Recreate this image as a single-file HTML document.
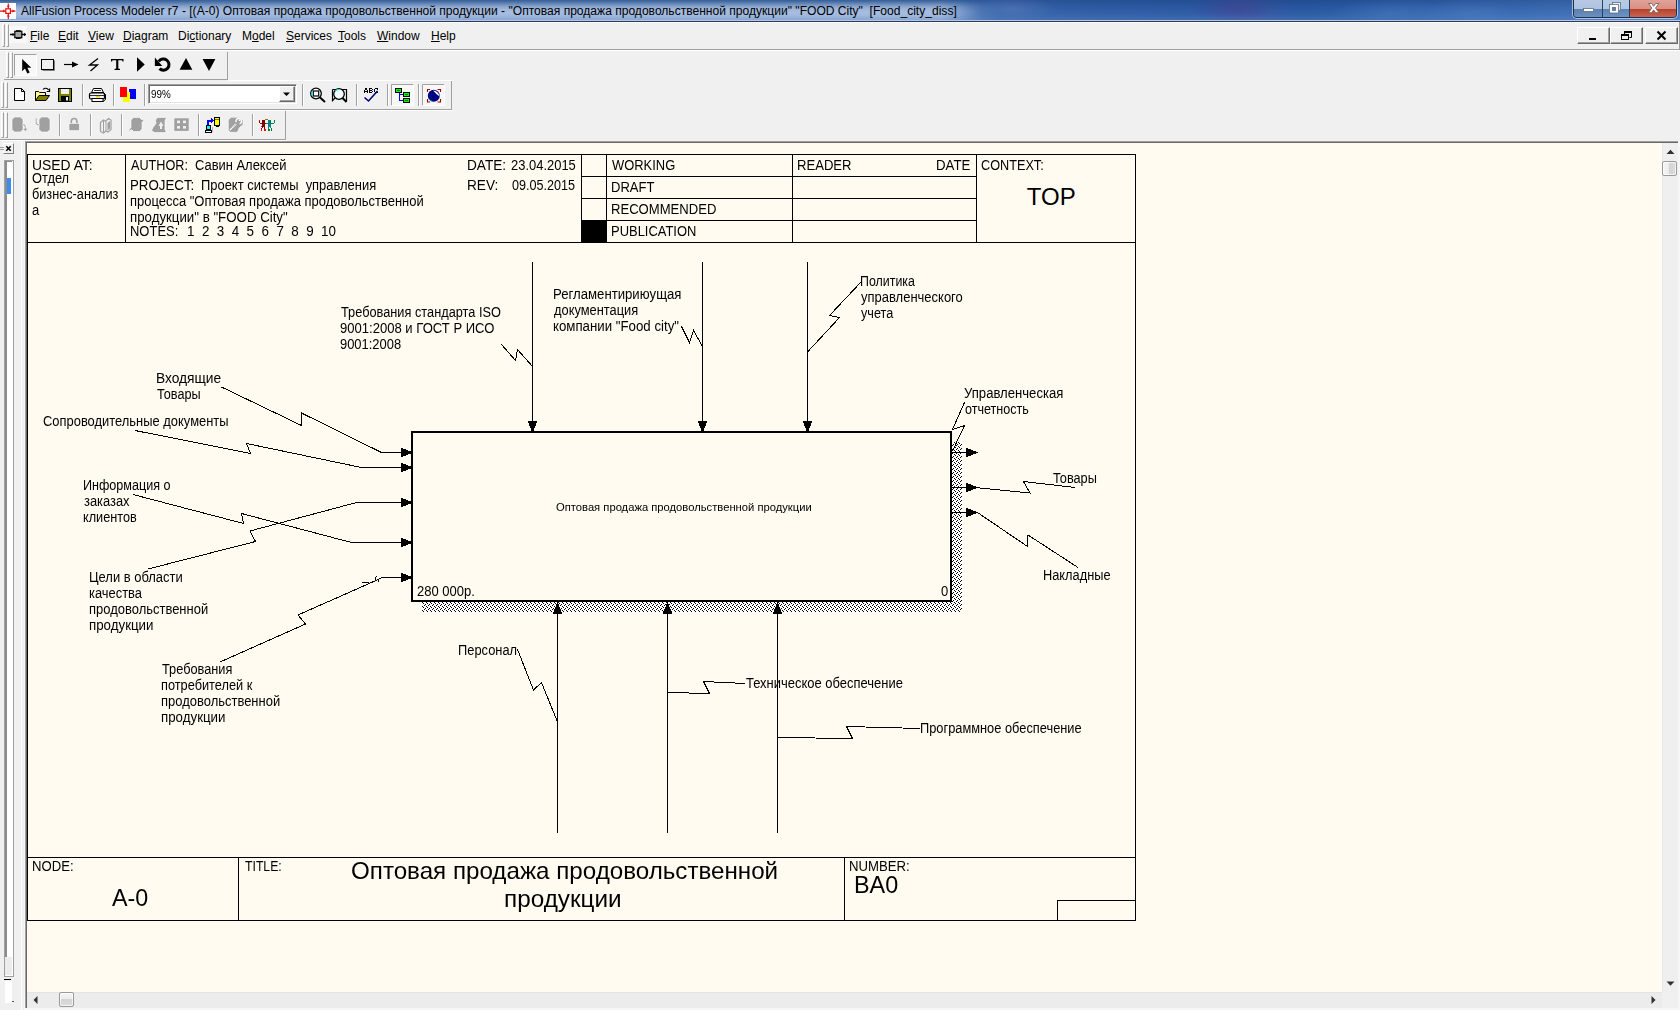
<!DOCTYPE html>
<html>
<head>
<meta charset="utf-8">
<title>AllFusion Process Modeler</title>
<style>
html,body{margin:0;padding:0;}
body{width:1680px;height:1010px;overflow:hidden;position:relative;background:#f0f0f0;font-family:"Liberation Sans",sans-serif;color:#000;}
.abs{position:absolute;}
.t{position:absolute;white-space:nowrap;font-family:"Liberation Sans",sans-serif;color:#000;}
/* title bar */
#titlebar{left:0;top:0;width:1680px;height:20px;background:linear-gradient(90deg,#3565ab 0px,#3363ab 1000px,#2d5ca5 1100px,#2a5aa4 1200px,#34579f 1245px,#2758a3 1300px,#2b5ea9 1400px,#3567b0 1500px,#3b6cb3 1570px,#4877bb 1680px);}
#titleshade{left:0;top:0;width:1680px;height:20px;background:radial-gradient(ellipse 45px 13px at 1234px 9px,rgba(75,50,140,0.36),rgba(75,50,140,0) 100%),radial-gradient(ellipse 60px 14px at 1393px 13px,rgba(90,140,195,0.30),rgba(90,140,195,0) 100%),radial-gradient(ellipse 50px 14px at 1468px 13px,rgba(100,140,205,0.28),rgba(100,140,205,0) 100%),radial-gradient(ellipse 45px 12px at 1012px 9px,rgba(110,135,190,0.38),rgba(110,135,190,0) 100%),linear-gradient(180deg,rgba(0,0,40,0.14) 0px,rgba(0,0,40,0.03) 7px,rgba(255,255,255,0.03) 14px,rgba(255,255,255,0.10) 20px);}
#titleglow{left:0;top:0;width:1000px;height:20px;background:linear-gradient(180deg,#3d6daa 0,#4f7bb4 1.5px,#6a90c2 3.5px,#8ba8d1 6px,#a0b8dd 9px,#a6bde1 12px,#9db6dc 15px,#89a7d3 18px,#7c9dcc 20px);-webkit-mask-image:linear-gradient(90deg,#000 0,#000 940px,rgba(0,0,0,0.6) 962px,rgba(0,0,0,0.15) 982px,transparent 1000px);mask-image:linear-gradient(90deg,#000 0,#000 940px,rgba(0,0,0,0.6) 962px,rgba(0,0,0,0.15) 982px,transparent 1000px);}
#titlehl{left:0;top:20px;width:1680px;height:1px;background:#b5c7e3;}
#titleline{left:0;top:21px;width:1680px;height:1px;background:#2a3c5e;}
#titlewh{left:0;top:22px;width:1680px;height:1px;background:#fcfcfc;}
#titletext{left:21px;top:4.2px;font-size:12.07px;line-height:15px;color:#000;}
/* menu */
.menu{top:28.7px;font-size:12px;line-height:15px;}
.menu u{text-decoration:underline;text-underline-offset:1px;}
.hline{position:absolute;height:1px;}
.vline{position:absolute;width:1px;}
.btn3d{position:absolute;box-sizing:border-box;background:#f0f0f0;border-top:1px solid #fff;border-left:1px solid #fff;border-right:1px solid #696969;border-bottom:1px solid #696969;box-shadow:inset -1px -1px 0 #a0a0a0;}
.tbbox{position:absolute;box-sizing:border-box;border-right:1px solid #a0a0a0;border-bottom:1px solid #a0a0a0;border-top:1px solid #fff;border-left:1px solid #fff;}
.grip{position:absolute;width:3px;border-left:1px solid #fff;border-right:1px solid #a0a0a0;border-top:1px solid #fff;border-bottom:1px solid #a0a0a0;box-sizing:border-box;}
.sep{position:absolute;width:1px;background:#a0a0a0;border-right:1px solid #fff;}
/* diagram */
#canvas{left:27px;top:143px;width:1635px;height:849px;background:#fffbf0;}
.lbl{position:absolute;white-space:nowrap;font-size:14px;line-height:16px;color:#000;transform-origin:0 0;}
.hdr{position:absolute;white-space:nowrap;font-size:12.6px;line-height:15px;color:#000;}
.big{position:absolute;white-space:nowrap;font-size:24px;line-height:28px;color:#000;}
</style>
</head>
<body>

<!-- ======= TITLE BAR ======= -->
<div id="titlebar" class="abs"></div>
<div id="titleglow" class="abs"></div>
<div id="titleshade" class="abs"></div>
<div id="titlehl" class="abs"></div>
<div id="titlewh" class="abs"></div>
<div id="titleline" class="abs"></div>
<div id="titletext" class="t">AllFusion Process Modeler r7 - [(A-0) Оптовая продажа продовольственной продукции - "Оптовая продажа продовольственной продукции" "FOOD City"&nbsp; [Food_city_diss]</div>

<!-- ======= WINDOW BUTTONS (aero) ======= -->
<div class="abs" style="left:1573px;top:-4px;width:104px;height:22px;border:1px solid #1b2f52;border-radius:4px;box-sizing:border-box;overflow:hidden;box-shadow:0 0 0 1px rgba(255,255,255,0.55);">
  <div class="abs" style="left:0;top:0;width:28px;height:21px;background:linear-gradient(180deg,#b8c9e2 0,#b0c4df 12px,#5a7fb0 12px,#6f93c2 21px);border-right:1px solid #2b4066;"></div>
  <div class="abs" style="left:29px;top:0;width:26px;height:21px;background:linear-gradient(180deg,#b8cde6 0,#afc7e2 12px,#5a82b4 12px,#7297c6 21px);border-right:1px solid #2b4066;"></div>
  <div class="abs" style="left:56px;top:0;width:48px;height:21px;background:linear-gradient(180deg,#e2a9a0 0,#d98e82 12px,#b8402c 12px,#cc6a52 21px);"></div>
</div>
<svg class="abs" style="left:1573px;top:0" width="104" height="18" viewBox="0 0 104 18">
  <rect x="10.5" y="8.5" width="10" height="3" fill="#fff" stroke="#5b6d85" stroke-width="0.8"/>
  <rect x="39.5" y="2.5" width="8" height="8" fill="#e9eef5" stroke="#5b6d85" stroke-width="0.8"/>
  <rect x="36.5" y="4.5" width="9" height="8.5" fill="#fff" stroke="#5b6d85" stroke-width="0.8"/>
  <rect x="39.5" y="7.5" width="3" height="3" fill="#5f83b4" stroke="#5b6d85" stroke-width="0.8"/>
  <path d="M75.5 3.5 h3.2 l2 2.8 l2 -2.8 h3.2 l-3.4 4.6 l3.5 4.6 h-3.3 l-2 -2.8 l-2 2.8 h-3.3 l3.5 -4.6 z" fill="#fff" stroke="#6b5550" stroke-width="0.8"/>
</svg>

<!-- app icon -->
<svg class="abs" style="left:0;top:3px" width="16" height="16" viewBox="0 0 16 16">
  <rect x="0" y="0" width="16" height="16" fill="#fff"/>
  <g stroke="#e81010" stroke-width="1.2" fill="none">
    <rect x="5.8" y="5.8" width="4.6" height="4.6" fill="#fff"/>
    <path d="M0 8.1 H5.5 M10.5 8.1 H15.5 M8.3 0.5 V5.5 M8.3 10.5 V16"/>
  </g>
  <g fill="#e81010"><path d="M3 6.6 L5.4 8.1 L3 9.6z M12.4 6.6 L14.8 8.1 L12.4 9.6z M6.8 2.8 L8.3 5 L9.8 2.8z M6.8 13.6 L8.3 11.2 L9.8 13.6z"/></g>
</svg>

<!-- ======= MENU BAR ======= -->
<div class="grip" style="left:2px;top:24px;height:23px;"></div>
<div class="grip" style="left:6px;top:24px;height:23px;"></div>
<svg class="abs" style="left:9px;top:26px" width="18" height="17" viewBox="0 0 18 17">
  <rect x="0" y="0" width="18" height="17" fill="#f8f8f8"/>
  <path d="M1 8.5 H5 M13 8.5 H17" stroke="#000" stroke-width="1.3"/>
  <path d="M3.6 6.8 L5.6 8.5 L3.6 10.2z" fill="#000"/>
  <path d="M15 6.8 L17 8.5 L15 10.2z" fill="#000"/>
  <rect x="5.8" y="5.3" width="7" height="6.4" fill="#a8a8a8" stroke="#000" stroke-width="1.2"/>
  <rect x="7" y="4.2" width="4.6" height="1" fill="#000"/><rect x="7" y="11.9" width="4.6" height="1" fill="#000"/>
</svg>
<div class="t menu" style="left:30px"><u>F</u>ile</div>
<div class="t menu" style="left:58px"><u>E</u>dit</div>
<div class="t menu" style="left:88px"><u>V</u>iew</div>
<div class="t menu" style="left:123px"><u>D</u>iagram</div>
<div class="t menu" style="left:178px">Di<u>c</u>tionary</div>
<div class="t menu" style="left:242px">M<u>o</u>del</div>
<div class="t menu" style="left:286px"><u>S</u>ervices</div>
<div class="t menu" style="left:338px"><u>T</u>ools</div>
<div class="t menu" style="left:377px"><u>W</u>indow</div>
<div class="t menu" style="left:431px"><u>H</u>elp</div>

<!-- MDI buttons -->
<div class="btn3d" style="left:1577px;top:27px;width:33px;height:17px;"></div>
<div class="btn3d" style="left:1610px;top:27px;width:33px;height:17px;"></div>
<div class="btn3d" style="left:1645px;top:27px;width:33px;height:17px;"></div>
<svg class="abs" style="left:1577px;top:27px" width="101" height="17" viewBox="0 0 101 17">
  <rect x="12" y="11" width="7" height="2" fill="#000"/>
  <rect x="47" y="4" width="8" height="2" fill="#000"/><path d="M54.5 6 V10.5 H52.5 M47.5 6 V7" fill="none" stroke="#000" stroke-width="1"/>
  <rect x="44" y="7" width="8" height="2" fill="#000"/><rect x="44.5" y="8.5" width="7" height="4" fill="none" stroke="#000" stroke-width="1"/>
  <path d="M80.5 4.5 L88.5 12.5 M88.5 4.5 L80.5 12.5" stroke="#000" stroke-width="2"/>
</svg>

<!-- lines under menu -->
<div class="hline" style="left:0;top:49px;width:1679px;background:#a0a0a0;"></div>
<div class="hline" style="left:0;top:50px;width:1679px;background:#fff;"></div>
<div class="vline" style="left:1679px;top:22px;height:28px;background:#a0a0a0;"></div>

<!-- ======= TOOLBAR 1 (drawing tools) ======= -->
<div class="hline" style="left:4px;top:79px;width:224px;background:#a0a0a0;"></div>
<div class="vline" style="left:227px;top:52px;height:28px;background:#a0a0a0;"></div>
<div class="grip" style="left:6px;top:52px;height:26px;"></div>
<div class="grip" style="left:10px;top:52px;height:26px;"></div>
<div class="abs" style="left:14px;top:54px;width:23px;height:22px;box-sizing:border-box;border-top:1px solid #a0a0a0;border-left:1px solid #a0a0a0;border-right:1px solid #fff;border-bottom:1px solid #fff;background:#f8f8f8;"></div>
<svg class="abs" style="left:14px;top:52px" width="212" height="27" viewBox="0 0 212 27">
  <!-- pointer -->
  <path d="M7.5 5 V17.2 L10.3 14.6 L12.6 19.6 L15 18.6 L12.7 13.7 H16.6 Z" fill="#000" transform="translate(0.7,2)"/>
  <!-- rectangle -->
  <rect x="27.5" y="7.5" width="12" height="10" fill="#f0f0f0" stroke="#000" stroke-width="1"/>
  <path d="M28.5 18.5 H40.5 V8.5" stroke="#808080" stroke-width="1" fill="none"/>
  <!-- arrow -->
  <path d="M50 12.5 H61" stroke="#000" stroke-width="1.2"/><path d="M58 9.5 L64.5 12.5 L58 15.5 Z" fill="#000"/>
  <!-- lightning -->
  <path d="M84 6.5 L75.5 13 H83.5 L76.5 19" stroke="#000" stroke-width="1.3" fill="none"/>
  <!-- T -->
  <path d="M97 7 H109.5 V9.6 H108.5 L108 8.2 H104.3 V16.4 L106 17 V18 H100.5 V17 L102.2 16.4 V8.2 H98.5 L98 9.6 H97 Z" fill="#000"/>
  <!-- play -->
  <path d="M123 5.3 L130.7 12.5 L123 19.7 Z" fill="#000"/>
  <!-- undo -->
  <path d="M144.7 9.5 A5.6 5.6 0 1 1 145.5 16.6" stroke="#000" stroke-width="3" fill="none"/>
  <path d="M140.9 5.4 V14 H148.3 Z" fill="#000"/>
  <!-- up triangle -->
  <path d="M165.6 17.8 L172 6 L178.3 17.8 Z" fill="#000"/>
  <!-- down triangle -->
  <path d="M188.6 7 H201.4 L195 18.9 Z" fill="#000"/>
</svg>

<!-- ======= TOOLBAR 2 (standard) ======= -->
<div class="hline" style="left:0;top:109px;width:452px;background:#a0a0a0;"></div>
<div class="vline" style="left:451px;top:81px;height:29px;background:#a0a0a0;"></div>
<div class="hline" style="left:228px;top:80px;width:224px;background:#fff;"></div>
<div class="grip" style="left:1px;top:82px;height:26px;"></div>
<div class="grip" style="left:5px;top:82px;height:26px;"></div>
<div class="sep" style="left:82px;top:84px;height:22px;"></div>
<div class="sep" style="left:113px;top:84px;height:22px;"></div>
<div class="sep" style="left:144px;top:84px;height:22px;"></div>
<div class="sep" style="left:302px;top:84px;height:22px;"></div>
<div class="sep" style="left:356px;top:84px;height:22px;"></div>
<div class="sep" style="left:387px;top:84px;height:22px;"></div>
<div class="sep" style="left:418px;top:84px;height:22px;"></div>
<!-- combobox -->
<div class="abs" style="left:148px;top:84px;width:149px;height:20px;box-sizing:border-box;background:#fff;border-top:1px solid #a0a0a0;border-left:1px solid #a0a0a0;border-right:1px solid #fff;border-bottom:1px solid #fff;box-shadow:inset 1px 1px 0 #696969, inset -1px -1px 0 #e3e3e3;"></div>
<div class="btn3d" style="left:279px;top:86px;width:16px;height:16px;"></div>
<svg class="abs" style="left:279px;top:86px" width="16" height="16"><path d="M4 6.5 H11 L7.5 10 Z" fill="#000"/></svg>
<div class="t" style="left:151px;top:87px;font-size:11.2px;line-height:14px;transform:scaleX(0.88);transform-origin:0 0;">99%</div>
<svg class="abs" style="left:10px;top:82px" width="440" height="27" viewBox="0 0 440 27">
  <!-- new -->
  <path d="M4.5 6.5 H11.5 L14.5 9.5 V18.5 H4.5 Z" fill="#fff" stroke="#000" stroke-width="1"/>
  <path d="M11.5 6.5 V9.5 H14.5" fill="none" stroke="#000" stroke-width="1"/>
  <!-- open -->
  <path d="M25.5 18.5 V9.5 H28.5 L29.5 10.5 H35.5 V13" fill="#ffff90" stroke="#000" stroke-width="1"/>
  <path d="M25.5 18.5 L29 13.5 H39.5 L36 18.5 Z" fill="#808000" stroke="#000" stroke-width="1"/>
  <path d="M33 7.5 C34.5 5.8 37 5.8 38.8 8.2" fill="none" stroke="#000" stroke-width="1.1"/><path d="M36.8 9.5 H39.6 V6.6" fill="none" stroke="#000" stroke-width="1.1"/>
  <!-- save -->
  <rect x="48.5" y="6.5" width="13" height="13" fill="#808000" stroke="#000" stroke-width="1"/>
  <rect x="51" y="7" width="8" height="5" fill="#f0f0f0"/><rect x="51" y="14" width="8" height="5.5" fill="#000"/><rect x="56" y="15" width="2" height="3.5" fill="#f0f0f0"/>
  <!-- print -->
  <path d="M83.5 6.5 H91.5 L93.5 10.5 H81.5 Z" fill="#fff" stroke="#000" stroke-width="1"/>
  <path d="M84 8.5 H91" stroke="#000" stroke-width="0.8"/>
  <rect x="79.5" y="11" width="15" height="6" rx="1.5" fill="#f4f4f4" stroke="#000" stroke-width="1.2"/>
  <path d="M80 13.5 H94" stroke="#000" stroke-width="0.8"/>
  <rect x="82" y="16.5" width="11" height="3" fill="#fff" stroke="#000" stroke-width="1"/>
  <rect x="86" y="14" width="4" height="1.4" fill="#e8d800"/>
  <path d="M93 10 L95.5 12.5 V17.5 L93 19.5" fill="none" stroke="#000" stroke-width="1"/>
  <!-- colors -->
  <rect x="119" y="7" width="7" height="10" fill="#0000ff"/>
  <rect x="121.5" y="15" width="1" height="1" fill="#000060"/>
  <rect x="113" y="10" width="7" height="10" fill="#ffff00"/>
  <rect x="110" y="5" width="7" height="10" fill="#ff0000"/>
  <!-- zoom -->
  <circle cx="306" cy="11.5" r="5.3" fill="#f4ffff" stroke="#000" stroke-width="1.3"/>
  <rect x="303.3" y="9" width="5.4" height="5" fill="#fff" stroke="#000" stroke-width="1.2"/>
  <path d="M302 9.3 A5 5 0 0 0 302.5 14.5" stroke="#00e0e0" stroke-width="1" fill="none"/>
  <path d="M310 15.5 L315 20" stroke="#000" stroke-width="2"/>
  <!-- zoom fit -->
  <path d="M322.5 7.5 V19.5 M322.5 7.5 H336.5 V19.5" stroke="#000" stroke-width="1.2" fill="none"/>
  <circle cx="329" cy="12" r="5.3" fill="#f4ffff" stroke="#000" stroke-width="1.3"/>
  <path d="M325 9.3 A5 5 0 0 1 328.5 7.3" stroke="#00e0e0" stroke-width="1.2" fill="none"/>
  <path d="M332.5 16 L336.5 20" stroke="#000" stroke-width="2"/>
  <path d="M322.5 18.5 L325 16" stroke="#000" stroke-width="1.2"/>
  <!-- ABC check -->
  <g shape-rendering="crispEdges" stroke="#000" stroke-width="1" fill="none"><path d="M354.5 11 V8 M357.5 11 V8 M355 7.5 H356 M355 6.5 H357 M356 7.5 H357 M354.5 9.5 H357.5"/><path d="M359.5 6 V11 M359.5 6.5 H362 M359.5 8.5 H362 M359.5 10.5 H362 M362.5 7 V8 M362.5 9 V10"/><path d="M365 6.5 H367.5 M364.5 7 V10 M365 10.5 H367.5 M367.5 7 V8 M367.5 9.5 V10"/></g>
  <path d="M354.5 15.5 L358.5 19 L367.5 9" stroke="#000080" stroke-width="1.6" fill="none"/>
  <!-- tree button (pressed) -->
  <rect x="381.5" y="2.5" width="22" height="21" fill="#f8f8f8" stroke="none"/>
  <path d="M381.5 23.5 V2.5 H403.5" stroke="#a0a0a0" fill="none"/><path d="M381.5 23.5 H403.5 V2.5" stroke="#fff" fill="none"/>
  <g shape-rendering="crispEdges"><path d="M389.5 11 V18.5 H393 M389.5 12.5 H393" stroke="#0000ff" stroke-width="1" fill="none"/>
  <rect x="385.5" y="6.5" width="6" height="4" fill="#00ff00" stroke="#000" stroke-width="1"/><rect x="387" y="8" width="3" height="1" fill="#008000"/>
  <rect x="393.5" y="10.5" width="6" height="4" fill="#00ff00" stroke="#000" stroke-width="1"/><rect x="395" y="12" width="3" height="1" fill="#008000"/>
  <rect x="393.5" y="16.5" width="6" height="4" fill="#00ff00" stroke="#000" stroke-width="1"/><rect x="395" y="18" width="3" height="1" fill="#008000"/></g>
  <!-- globe button (pressed) -->
  <rect x="412.5" y="2.5" width="22" height="21" fill="#f8f8f8" stroke="none"/>
  <path d="M412.5 23.5 V2.5 H434.5" stroke="#a0a0a0" fill="none"/><path d="M412.5 23.5 H434.5 V2.5" stroke="#fff" fill="none"/>
  <circle cx="423.8" cy="13.8" r="6" fill="#000080"/>
  <path d="M423.2 8.6 Q428.3 9 429.6 14.6 Q426.2 12.4 423.2 8.6 Z" fill="#fff"/>
  <path d="M418.6 16.6 Q420 19 422.8 19.6" stroke="#00b0b0" stroke-width="1" fill="none"/>
  <path d="M417.5 10 V7.5 H420 M427.5 7.5 H430.5 V10 M417.5 17 V20 H420 M427.5 20 H430.5 V17" stroke="#a00000" stroke-width="1.1" fill="none"/>
</svg>

<!-- ======= TOOLBAR 3 (model mart) ======= -->
<div class="hline" style="left:0;top:139px;width:286px;background:#a0a0a0;"></div>
<div class="vline" style="left:285px;top:111px;height:29px;background:#a0a0a0;"></div>
<div class="hline" style="left:0;top:110px;width:452px;background:#fff;"></div>
<div class="grip" style="left:1px;top:112px;height:26px;"></div>
<div class="grip" style="left:5px;top:112px;height:26px;"></div>
<div class="sep" style="left:59px;top:114px;height:22px;"></div>
<div class="sep" style="left:90px;top:114px;height:22px;"></div>
<div class="sep" style="left:121px;top:114px;height:22px;"></div>
<div class="sep" style="left:198px;top:114px;height:22px;"></div>
<div class="sep" style="left:252px;top:114px;height:22px;"></div>
<svg class="abs" style="left:0;top:112px" width="286" height="27" viewBox="0 0 286 27">
  <g fill="#a0a0a0" stroke="#fff" stroke-width="0.6">
    <!-- 1 -->
    <path d="M14.5 5 H20.5 L23 7.5 V17.5 L20.5 20 H14.5 L12 17.5 V7.5 Z"/>
    <path d="M22.5 12 C25.5 12 26 14 26 16.5 L27.8 16.5 L25.4 19.6 L23 16.5 L24.8 16.5 C24.8 14.5 24.5 13.3 22.5 13.3 Z" stroke-width="0.4"/>
    <!-- 2 -->
    <path d="M41.5 5 H47.5 L50 7.5 V17.5 L47.5 20 H41.5 L39 17.5 V7.5 Z"/>
    <path d="M35.5 6 V10.5 C35.5 12.5 36.5 13.3 39.5 13.3 V12 C37.3 12 36.8 11.6 36.8 10.5 V6 Z" stroke-width="0.4"/>
    <!-- lock -->
    <path d="M71.3 11.5 V9.3 A2.8 2.8 0 0 1 76.9 9.3 V11.5" fill="none" stroke="#a0a0a0" stroke-width="1.6"/>
    <rect x="69" y="11.3" width="10.4" height="7.4"/>
    <!-- book -->
    <path d="M100.5 10.5 L103.5 8 L105.5 9.2 L108.5 6.5 L111 8 V17.5 L108 20 L106 18.8 L103.5 21 L100.5 19.5 Z" fill="#f0f0f0" stroke="#a0a0a0" stroke-width="1.2"/>
    <path d="M103.5 8.5 V20.5 M106 9.5 V18.5" stroke="#a0a0a0" stroke-width="1" fill="none"/>
    <path d="M107.5 11 L110 9 V16.5 L107.5 18.5 Z" fill="#a0a0a0" stroke="none"/>
    <!-- 5 -->
    <path d="M133.5 5.5 H139.5 L142 8 L143.5 6 V8.5 L142 10.5 V17 L139.5 19.5 H133.5 L131.5 17.5 L128.5 20 L129.5 17 L131 15.5 V8 Z"/>
    <!-- 6 -->
    <path d="M157.5 5.5 H166.5 L165 8.5 V17.5 L166.5 20.5 H154.5 L151.5 18.5 L153 15.5 L156 11.5 L155.5 8 Z"/>
    <path d="M158.5 14 L161 9.5 L163.5 14 H162 V17 H160 V14 Z" fill="#f0f0f0" stroke="none"/>
    <!-- grid -->
    <rect x="174.3" y="6.3" width="14.4" height="12.6" stroke="none"/>
    <g fill="#f0f0f0" stroke="none"><rect x="177" y="8.6" width="3" height="2.6"/><rect x="183" y="8.6" width="3" height="2.6"/><rect x="177" y="14" width="3" height="2.6"/><rect x="183" y="14" width="3" height="2.6"/></g>
    <!-- wrench -->
    <path d="M231 5.3 H240 L243 8.3 V13 L240.5 14.5 L238.5 17 V18.5 L236.5 20.3 H230.5 L228.3 18.3 V8 Z" stroke="#fff" stroke-width="0.6"/>
    <path d="M230 18 L236 12" stroke="#fff" stroke-width="1.7" stroke-dasharray="1.1 0.5" fill="none"/>
    <path d="M236.2 10.2 A2.8 2.8 0 1 1 239.6 11.8" stroke="#fff" stroke-width="1.4" fill="none"/>
    <circle cx="239.6" cy="8.2" r="0.9" fill="#fff" stroke="none"/>
  </g>
  <!-- 8 colored -->
  <g shape-rendering="crispEdges">
  <path d="M207 12 V8 H212" stroke="#0000ff" stroke-width="2" fill="none" transform="translate(1,0.5)"/><path d="M211 5.5 L214 8.5 L211 11 Z" fill="#0000ff"/>
  <rect x="214.5" y="5.5" width="5" height="8" fill="#ffff00" stroke="#000" stroke-width="1"/>
  <rect x="215" y="6.5" width="4" height="1" fill="#808000"/>
  <rect x="215.5" y="4.5" width="3" height="1" fill="#000"/><rect x="215.5" y="13.5" width="3" height="1" fill="#000"/>
  <rect x="206.5" y="13.5" width="4" height="4" fill="#00ffff" stroke="#000" stroke-width="1"/>
  <rect x="205.5" y="18.5" width="6" height="2" fill="#fff" stroke="#000" stroke-width="1"/>
  <rect x="212" y="15" width="1" height="5" fill="#b0b0b0"/>
  <!-- people -->
  <rect x="262" y="8" width="3" height="7" fill="#800000"/>
  <path d="M259.5 9 V11 M260 11.5 H262 M265 11.5 H267 M262.5 15 V16 M261.5 16 V17 M264.5 15 V17" stroke="#800000" stroke-width="1" fill="none"/>
  <rect x="259" y="8" width="1" height="1" fill="#ff0000"/><rect x="261" y="17" width="1" height="1.5" fill="#ff0000"/><rect x="264" y="17" width="1.5" height="1.5" fill="#ff0000"/><rect x="261" y="14" width="1" height="1" fill="#ff0000"/>
  <rect x="268" y="8" width="3" height="7" fill="#008080"/>
  <path d="M274.5 9 V11 M271 11.5 H274 M266 11.5 H268 M268.5 15 V17 M270.5 15 V16 M271.5 16 V17" stroke="#008080" stroke-width="1" fill="none"/>
  <rect x="274" y="8" width="1" height="1" fill="#008000"/><rect x="268" y="17" width="1.5" height="1.5" fill="#008000"/><rect x="271" y="17" width="1" height="1.5" fill="#008000"/><rect x="270" y="9" width="1" height="2" fill="#008000"/>
  <rect x="265" y="7" width="3" height="1" fill="#808000"/>
  </g>
</svg>

<!-- ======= main area frame ======= -->
<div class="hline" style="left:0;top:140px;width:286px;background:#fff;"></div>
<div class="hline" style="left:25px;top:141px;width:1653px;background:#a0a0a0;"></div>
<div class="hline" style="left:26px;top:142px;width:1652px;background:#696969;"></div>
<div class="vline" style="left:25px;top:141px;height:867px;background:#a0a0a0;"></div>
<div class="vline" style="left:26px;top:142px;height:866px;background:#696969;"></div>
<div class="vline" style="left:1678px;top:141px;height:869px;width:2px;background:#f6f6f6;"></div>
<div class="hline" style="left:25px;top:1008px;width:1655px;height:2px;background:#f6f6f6;"></div>

<!-- left collapsed pane -->
<div class="vline" style="left:21px;top:141px;height:869px;width:1px;background:#fff;"></div>
<div class="vline" style="left:24px;top:141px;height:869px;width:1px;background:#f8f8f8;"></div>
<div class="btn3d" style="left:3px;top:143px;width:11px;height:11px;box-shadow:none;border-right-color:#808080;border-bottom-color:#808080;"></div>
<svg class="abs" style="left:0;top:143px" width="15" height="12"><path d="M6.3 3.2 L10.7 7.8 M10.7 3.2 L6.3 7.8" stroke="#000" stroke-width="1.5"/><path d="M0 4.5 H4 M0 6.5 H4" stroke="#a0a0a0" stroke-width="1"/></svg>
<div class="abs" style="left:4px;top:160px;width:10px;height:817px;box-sizing:border-box;border:1px solid #a0a0a0;background:#fff;"></div>
<div class="abs" style="left:5px;top:161px;width:2px;height:796px;background:#8c8c8c;"></div>
<div class="abs" style="left:7px;top:161px;width:5px;height:1px;background:#8c8c8c;"></div>
<div class="abs" style="left:5px;top:957px;width:7px;height:18px;background:#ececec;"></div>
<div class="abs" style="left:7px;top:178px;width:4px;height:16px;background:#3c8cf0;"></div>
<div class="abs" style="left:4px;top:979px;width:7px;height:1px;background:#000;"></div>
<div class="abs" style="left:5px;top:981px;width:7px;height:22px;background:#fff;"></div>
<div class="abs" style="left:12px;top:1001px;width:2px;height:1px;background:#505050;"></div>

<!-- ======= scrollbars ======= -->
<div class="abs" style="left:1662px;top:143px;width:16px;height:849px;background:#efefef;border-left:1px solid #e6e6e6;box-sizing:border-box;"></div>
<div class="abs" style="left:27px;top:992px;width:1635px;height:16px;background:#ececec;border-top:1px solid #e4e4e4;box-sizing:border-box;"></div>
<div class="abs" style="left:1662px;top:992px;width:16px;height:16px;background:#f0f0f0;"></div>
<div class="abs" style="left:1662px;top:161px;width:15px;height:15px;box-sizing:border-box;border:1px solid #9a9a9a;border-radius:2px;background:linear-gradient(90deg,#f5f5f5 0,#ececec 45%,#d4d4d6 50%,#dcdcde 100%);box-shadow:inset 0 0 0 1px rgba(255,255,255,0.7);"></div>
<div class="abs" style="left:59px;top:992px;width:15px;height:15px;box-sizing:border-box;border:1px solid #9a9a9a;border-radius:2px;background:linear-gradient(180deg,#f5f5f5 0,#ececec 45%,#d4d4d6 50%,#dcdcde 100%);box-shadow:inset 0 0 0 1px rgba(255,255,255,0.7);"></div>
<svg class="abs" style="left:1662px;top:143px" width="16" height="849"><path d="M4.5 11 L8.5 6.8 L12.5 11 Z" fill="#303030"/><path d="M4.5 838.5 H12.5 L8.5 842.8 Z" fill="#303030"/></svg>
<svg class="abs" style="left:27px;top:992px" width="1635" height="16"><path d="M10.5 4 V12 L6.5 8 Z" fill="#303030"/><path d="M1624.5 4 V12 L1628.5 8 Z" fill="#303030"/></svg>

<!--CHROME-->

<!-- ======= CANVAS ======= -->
<div id="canvas" class="abs"></div>

<!--DIAGRAM-->
<svg class="abs" style="left:0;top:0" width="1680" height="1010" viewBox="0 0 1680 1010" shape-rendering="crispEdges">
<defs><pattern id="sh" x="0" y="0" width="4" height="4" patternUnits="userSpaceOnUse"><rect width="4" height="4" fill="#fff"/><rect x="1" y="0" width="1" height="1" fill="#000"/><rect x="0" y="1" width="1" height="1" fill="#000"/><rect x="2" y="2" width="1" height="1" fill="#000"/><rect x="3" y="3" width="1" height="1" fill="#000"/></pattern></defs>
<g fill="none" stroke="#000" stroke-width="1">
<rect x="27.5" y="154.5" width="1108" height="766"/>
<path d="M27 242.5 H1136 M27 857.5 H1136"/>
<path d="M125.5 154 V242 M581.5 154 V242 M606.5 154 V242 M792.5 154 V242 M976.5 154 V242"/>
<path d="M581 176.5 H976 M581 198.5 H976 M581 220.5 H976"/>
<path d="M238.5 857 V920 M844.5 857 V920 M1057.5 920 V900.5 H1135"/>
</g>
<rect x="582" y="221" width="24" height="21" fill="#000"/>
<rect x="952" y="442" width="10" height="170" fill="url(#sh)"/>
<rect x="422" y="602" width="530" height="10" fill="url(#sh)"/>
<rect x="412" y="432" width="539" height="169" fill="#fffbf0" stroke="#000" stroke-width="2"/>
<path d="M221.5 387 L301.5 425.5 L301.5 413 L381.5 452.5 H402 M135 430.5 L250.5 453.5 L246.5 443.5 L361.5 467.5 H402 M133 494.5 L243.5 523.5 L241.5 513.5 L351.5 542.5 H402 M148 569 L255.5 541.5 L250 531 L356.5 502.5 H402 M220 662 L305.5 624 L298 615 L380.5 578.5 L382 577.5 H402 M362 582.5 H369 M368 584 L377 580 M375.5 577 V581 M376 576.5 H377 M376 580.5 H377 M377 579.5 H379 M378.5 580 V582 M532.5 262 V422 M702.5 262 V422 M807.5 262 V422 M501.5 344.5 L515.5 360.5 L517.5 349.5 L532.5 366.5 M681.5 326.5 L689.5 342.5 L693.5 330.5 L702.5 346.5 M807.5 352 L839.5 317.5 L829.5 315.5 L861.5 281.5 M952 452.5 H967 M952 487.5 H967 M952 512.5 H967 M964.5 402.5 L952.5 429.5 L964.5 425.5 L952.5 451 M975 487.5 L1030 493 L1023.5 481.5 L1075 487.5 M977.5 512.5 L1027.5 546.5 L1028 535 L1078 567.5 M557.5 613 V833 M667.5 613 V833 M777.5 613 V833 M517.5 649.5 L533.5 690 L541.5 682.5 L557.5 722 M667.5 692.5 L709.5 693.5 L703.5 681.5 L745 683.5 M777.5 737.5 L852.5 738.5 L846.5 726.5 L920.5 728.5" fill="none" stroke="#000" stroke-width="1"/>
<g fill="#000">
<rect x="401" y="448" width="1" height="9"/><rect x="402" y="448" width="1" height="9"/><rect x="403" y="449" width="1" height="7"/><rect x="404" y="449" width="1" height="7"/><rect x="405" y="449" width="1" height="7"/><rect x="406" y="450" width="1" height="5"/><rect x="407" y="450" width="1" height="5"/><rect x="408" y="451" width="1" height="3"/><rect x="409" y="451" width="1" height="3"/><rect x="410" y="451" width="1" height="3"/>
<rect x="401" y="463" width="1" height="9"/><rect x="402" y="463" width="1" height="9"/><rect x="403" y="464" width="1" height="7"/><rect x="404" y="464" width="1" height="7"/><rect x="405" y="464" width="1" height="7"/><rect x="406" y="465" width="1" height="5"/><rect x="407" y="465" width="1" height="5"/><rect x="408" y="466" width="1" height="3"/><rect x="409" y="466" width="1" height="3"/><rect x="410" y="466" width="1" height="3"/>
<rect x="401" y="498" width="1" height="9"/><rect x="402" y="498" width="1" height="9"/><rect x="403" y="499" width="1" height="7"/><rect x="404" y="499" width="1" height="7"/><rect x="405" y="499" width="1" height="7"/><rect x="406" y="500" width="1" height="5"/><rect x="407" y="500" width="1" height="5"/><rect x="408" y="501" width="1" height="3"/><rect x="409" y="501" width="1" height="3"/><rect x="410" y="501" width="1" height="3"/>
<rect x="401" y="538" width="1" height="9"/><rect x="402" y="538" width="1" height="9"/><rect x="403" y="539" width="1" height="7"/><rect x="404" y="539" width="1" height="7"/><rect x="405" y="539" width="1" height="7"/><rect x="406" y="540" width="1" height="5"/><rect x="407" y="540" width="1" height="5"/><rect x="408" y="541" width="1" height="3"/><rect x="409" y="541" width="1" height="3"/><rect x="410" y="541" width="1" height="3"/>
<rect x="401" y="573" width="1" height="9"/><rect x="402" y="573" width="1" height="9"/><rect x="403" y="574" width="1" height="7"/><rect x="404" y="574" width="1" height="7"/><rect x="405" y="574" width="1" height="7"/><rect x="406" y="575" width="1" height="5"/><rect x="407" y="575" width="1" height="5"/><rect x="408" y="576" width="1" height="3"/><rect x="409" y="576" width="1" height="3"/><rect x="410" y="576" width="1" height="3"/>
<rect x="966" y="448" width="1" height="9"/><rect x="967" y="448" width="1" height="9"/><rect x="968" y="449" width="1" height="7"/><rect x="969" y="449" width="1" height="7"/><rect x="970" y="449" width="1" height="7"/><rect x="971" y="450" width="1" height="5"/><rect x="972" y="450" width="1" height="5"/><rect x="973" y="451" width="1" height="3"/><rect x="974" y="451" width="1" height="3"/><rect x="975" y="451" width="1" height="3"/><rect x="976" y="452" width="1" height="1"/><rect x="977" y="452" width="1" height="1"/>
<rect x="966" y="483" width="1" height="9"/><rect x="967" y="483" width="1" height="9"/><rect x="968" y="484" width="1" height="7"/><rect x="969" y="484" width="1" height="7"/><rect x="970" y="484" width="1" height="7"/><rect x="971" y="485" width="1" height="5"/><rect x="972" y="485" width="1" height="5"/><rect x="973" y="486" width="1" height="3"/><rect x="974" y="486" width="1" height="3"/><rect x="975" y="486" width="1" height="3"/><rect x="976" y="487" width="1" height="1"/><rect x="977" y="487" width="1" height="1"/>
<rect x="966" y="508" width="1" height="9"/><rect x="967" y="508" width="1" height="9"/><rect x="968" y="509" width="1" height="7"/><rect x="969" y="509" width="1" height="7"/><rect x="970" y="509" width="1" height="7"/><rect x="971" y="510" width="1" height="5"/><rect x="972" y="510" width="1" height="5"/><rect x="973" y="511" width="1" height="3"/><rect x="974" y="511" width="1" height="3"/><rect x="975" y="511" width="1" height="3"/><rect x="976" y="512" width="1" height="1"/><rect x="977" y="512" width="1" height="1"/>
<rect x="528" y="421" width="9" height="1"/><rect x="528" y="422" width="9" height="1"/><rect x="529" y="423" width="7" height="1"/><rect x="529" y="424" width="7" height="1"/><rect x="529" y="425" width="7" height="1"/><rect x="530" y="426" width="5" height="1"/><rect x="530" y="427" width="5" height="1"/><rect x="531" y="428" width="3" height="1"/><rect x="531" y="429" width="3" height="1"/><rect x="531" y="430" width="3" height="1"/>
<rect x="698" y="421" width="9" height="1"/><rect x="698" y="422" width="9" height="1"/><rect x="699" y="423" width="7" height="1"/><rect x="699" y="424" width="7" height="1"/><rect x="699" y="425" width="7" height="1"/><rect x="700" y="426" width="5" height="1"/><rect x="700" y="427" width="5" height="1"/><rect x="701" y="428" width="3" height="1"/><rect x="701" y="429" width="3" height="1"/><rect x="701" y="430" width="3" height="1"/>
<rect x="803" y="421" width="9" height="1"/><rect x="803" y="422" width="9" height="1"/><rect x="804" y="423" width="7" height="1"/><rect x="804" y="424" width="7" height="1"/><rect x="804" y="425" width="7" height="1"/><rect x="805" y="426" width="5" height="1"/><rect x="805" y="427" width="5" height="1"/><rect x="806" y="428" width="3" height="1"/><rect x="806" y="429" width="3" height="1"/><rect x="806" y="430" width="3" height="1"/>
<rect x="553" y="613" width="9" height="1"/><rect x="553" y="612" width="9" height="1"/><rect x="554" y="611" width="7" height="1"/><rect x="554" y="610" width="7" height="1"/><rect x="554" y="609" width="7" height="1"/><rect x="555" y="608" width="5" height="1"/><rect x="555" y="607" width="5" height="1"/><rect x="556" y="606" width="3" height="1"/><rect x="556" y="605" width="3" height="1"/><rect x="556" y="604" width="3" height="1"/><rect x="557" y="603" width="1" height="1"/><rect x="557" y="602" width="1" height="1"/>
<rect x="663" y="613" width="9" height="1"/><rect x="663" y="612" width="9" height="1"/><rect x="664" y="611" width="7" height="1"/><rect x="664" y="610" width="7" height="1"/><rect x="664" y="609" width="7" height="1"/><rect x="665" y="608" width="5" height="1"/><rect x="665" y="607" width="5" height="1"/><rect x="666" y="606" width="3" height="1"/><rect x="666" y="605" width="3" height="1"/><rect x="666" y="604" width="3" height="1"/><rect x="667" y="603" width="1" height="1"/><rect x="667" y="602" width="1" height="1"/>
<rect x="773" y="613" width="9" height="1"/><rect x="773" y="612" width="9" height="1"/><rect x="774" y="611" width="7" height="1"/><rect x="774" y="610" width="7" height="1"/><rect x="774" y="609" width="7" height="1"/><rect x="775" y="608" width="5" height="1"/><rect x="775" y="607" width="5" height="1"/><rect x="776" y="606" width="3" height="1"/><rect x="776" y="605" width="3" height="1"/><rect x="776" y="604" width="3" height="1"/><rect x="777" y="603" width="1" height="1"/><rect x="777" y="602" width="1" height="1"/>
</g>
</svg>
<div id="c1_0" class="lbl" style="left:340.60px;top:304.00px;font-size:14px;line-height:16px;transform:scaleX(0.9120);">Требования стандарта ISO</div>
<div id="c1_1" class="lbl" style="left:339.60px;top:320.00px;font-size:14px;line-height:16px;transform:scaleX(0.9329);">9001:2008 и ГОСТ Р ИСО</div>
<div id="c1_2" class="lbl" style="left:339.60px;top:336.00px;font-size:14px;line-height:16px;transform:scaleX(0.9231);">9001:2008</div>
<div id="c2_0" class="lbl" style="left:552.60px;top:286.00px;font-size:14px;line-height:16px;transform:scaleX(0.9400);">Регламентириюущая</div>
<div id="c2_1" class="lbl" style="left:553.60px;top:302.00px;font-size:14px;line-height:16px;transform:scaleX(0.9178);">документация</div>
<div id="c2_2" class="lbl" style="left:552.60px;top:318.00px;font-size:14px;line-height:16px;transform:scaleX(0.9470);">компании "Food city"</div>
<div id="c3_0" class="lbl" style="left:859.60px;top:273.00px;font-size:14px;line-height:16px;transform:scaleX(0.8859);">Политика</div>
<div id="c3_1" class="lbl" style="left:860.60px;top:289.00px;font-size:14px;line-height:16px;transform:scaleX(0.9280);">управленческого</div>
<div id="c3_2" class="lbl" style="left:860.60px;top:305.00px;font-size:14px;line-height:16px;transform:scaleX(0.9046);">учета</div>
<div id="i1_0" class="lbl" style="left:155.60px;top:370.00px;font-size:14px;line-height:16px;transform:scaleX(0.9823);">Входящие</div>
<div id="i1_1" class="lbl" style="left:156.60px;top:386.00px;font-size:14px;line-height:16px;transform:scaleX(0.9064);">Товары</div>
<div id="i2_0" class="lbl" style="left:42.60px;top:413.00px;font-size:14px;line-height:16px;transform:scaleX(0.9232);">Сопроводительные документы</div>
<div id="i3_0" class="lbl" style="left:82.60px;top:477.00px;font-size:14px;line-height:16px;transform:scaleX(0.8994);">Информация о</div>
<div id="i3_1" class="lbl" style="left:83.60px;top:493.00px;font-size:14px;line-height:16px;transform:scaleX(0.9210);">заказах</div>
<div id="i3_2" class="lbl" style="left:82.60px;top:509.00px;font-size:14px;line-height:16px;transform:scaleX(0.9068);">клиентов</div>
<div id="i4_0" class="lbl" style="left:88.60px;top:569.00px;font-size:14px;line-height:16px;transform:scaleX(0.9255);">Цели в области</div>
<div id="i4_1" class="lbl" style="left:88.60px;top:585.00px;font-size:14px;line-height:16px;transform:scaleX(0.9222);">качества</div>
<div id="i4_2" class="lbl" style="left:88.60px;top:601.00px;font-size:14px;line-height:16px;transform:scaleX(0.9266);">продовольственной</div>
<div id="i4_3" class="lbl" style="left:88.60px;top:617.00px;font-size:14px;line-height:16px;transform:scaleX(0.9507);">продукции</div>
<div id="i5_0" class="lbl" style="left:161.60px;top:661.00px;font-size:14px;line-height:16px;transform:scaleX(0.9123);">Требования</div>
<div id="i5_1" class="lbl" style="left:160.60px;top:677.00px;font-size:14px;line-height:16px;transform:scaleX(0.9118);">потребителей к</div>
<div id="i5_2" class="lbl" style="left:160.60px;top:693.00px;font-size:14px;line-height:16px;transform:scaleX(0.9266);">продовольственной</div>
<div id="i5_3" class="lbl" style="left:160.60px;top:709.00px;font-size:14px;line-height:16px;transform:scaleX(0.9507);">продукции</div>
<div id="o1_0" class="lbl" style="left:963.60px;top:385.00px;font-size:14px;line-height:16px;transform:scaleX(0.9366);">Управленческая</div>
<div id="o1_1" class="lbl" style="left:964.60px;top:401.00px;font-size:14px;line-height:16px;transform:scaleX(0.8979);">отчетность</div>
<div id="o2_0" class="lbl" style="left:1052.60px;top:470.00px;font-size:14px;line-height:16px;transform:scaleX(0.9110);">Товары</div>
<div id="o3_0" class="lbl" style="left:1042.60px;top:567.00px;font-size:14px;line-height:16px;transform:scaleX(0.9144);">Накладные</div>
<div id="m1_0" class="lbl" style="left:457.60px;top:642.00px;font-size:14px;line-height:16px;transform:scaleX(0.9192);">Персонал</div>
<div id="m2_0" class="lbl" style="left:745.60px;top:675.00px;font-size:14px;line-height:16px;transform:scaleX(0.9261);">Техническое обеспечение</div>
<div id="m3_0" class="lbl" style="left:919.60px;top:720.00px;font-size:14px;line-height:16px;transform:scaleX(0.9158);">Программное обеспечение</div>
<div id="b_t" class="lbl" style="left:555.60px;top:500.00px;font-size:11.3px;line-height:14px;transform:scaleX(0.9930);">Оптовая продажа продовольственной продукции</div>
<div id="b_c" class="lbl" style="left:416.60px;top:584.00px;font-size:14px;line-height:15px;transform:scaleX(0.9300);">280 000р.</div>
<div id="b_n" class="lbl" style="left:940.60px;top:584.00px;font-size:14px;line-height:15px;transform:scaleX(0.9300);">0</div>
<div id="h_used" class="lbl" style="left:31.60px;top:158.00px;font-size:14px;line-height:15px;transform:scaleX(0.9909);">USED AT:</div>
<div id="h_u1" class="lbl" style="left:31.60px;top:171.00px;font-size:14px;line-height:15px;transform:scaleX(0.9161);">Отдел</div>
<div id="h_u2" class="lbl" style="left:31.60px;top:187.00px;font-size:14px;line-height:15px;transform:scaleX(0.9070);">бизнес-анализ</div>
<div id="h_u3" class="lbl" style="left:31.60px;top:203.00px;font-size:14px;line-height:15px;transform:scaleX(0.9300);">а</div>
<div id="h_au" class="lbl" style="left:130.80px;top:158.00px;font-size:14px;line-height:15px;transform:scaleX(0.9056);">AUTHOR:</div>
<div id="h_au2" class="lbl" style="left:194.80px;top:158.00px;font-size:14px;line-height:15px;transform:scaleX(0.9235);">Савин Алексей</div>
<div id="h_pr" class="lbl" style="left:129.80px;top:178.00px;font-size:14px;line-height:15px;transform:scaleX(0.9494);">PROJECT:</div>
<div id="h_pr2" class="lbl" style="left:201.00px;top:178.00px;font-size:14px;line-height:15px;transform:scaleX(0.9234);">Проект системы&nbsp; управления</div>
<div id="h_pr3" class="lbl" style="left:129.80px;top:194.00px;font-size:14px;line-height:15px;transform:scaleX(0.9269);">процесса "Оптовая продажа продовольственной</div>
<div id="h_pr4" class="lbl" style="left:129.80px;top:210.00px;font-size:14px;line-height:15px;transform:scaleX(0.9480);">продукции" в "FOOD City"</div>
<div id="h_no" class="lbl" style="left:129.80px;top:224.00px;font-size:14px;line-height:15px;transform:scaleX(0.9265);">NOTES:</div>
<div id="h_no2" class="lbl" style="left:187.00px;top:224.00px;font-size:14px;line-height:15px;transform:scaleX(0.9570);">1&nbsp; 2&nbsp; 3&nbsp; 4&nbsp; 5&nbsp; 6&nbsp; 7&nbsp; 8&nbsp; 9&nbsp; 10</div>
<div id="h_da" class="lbl" style="left:467.20px;top:158.00px;font-size:14px;line-height:15px;transform:scaleX(0.9733);">DATE:</div>
<div id="h_da2" class="lbl" style="left:511.00px;top:158.00px;font-size:14px;line-height:15px;transform:scaleX(0.9247);">23.04.2015</div>
<div id="h_re" class="lbl" style="left:467.20px;top:178.00px;font-size:14px;line-height:15px;transform:scaleX(0.9751);">REV:</div>
<div id="h_re2" class="lbl" style="left:512.20px;top:178.00px;font-size:14px;line-height:15px;transform:scaleX(0.9004);">09.05.2015</div>
<div id="h_w1" class="lbl" style="left:612.00px;top:158.00px;font-size:14px;line-height:15px;transform:scaleX(0.9235);">WORKING</div>
<div id="h_w2" class="lbl" style="left:611.00px;top:180.00px;font-size:14px;line-height:15px;transform:scaleX(0.9300);">DRAFT</div>
<div id="h_w3" class="lbl" style="left:611.00px;top:202.00px;font-size:14px;line-height:15px;transform:scaleX(0.9342);">RECOMMENDED</div>
<div id="h_w4" class="lbl" style="left:611.00px;top:224.00px;font-size:14px;line-height:15px;transform:scaleX(0.9250);">PUBLICATION</div>
<div id="h_rd" class="lbl" style="left:797.00px;top:158.00px;font-size:14px;line-height:15px;transform:scaleX(0.9351);">READER</div>
<div id="h_rdd" class="lbl" style="left:936.20px;top:158.00px;font-size:14px;line-height:15px;transform:scaleX(0.9461);">DATE</div>
<div id="h_cx" class="lbl" style="left:981.20px;top:158.00px;font-size:14px;line-height:15px;transform:scaleX(0.9058);">CONTEXT:</div>
<div id="h_top" class="lbl" style="left:1026.80px;top:183.00px;font-size:24px;line-height:28px;transform:scaleX(1.0000);">TOP</div>
<div id="f_node" class="lbl" style="left:32.00px;top:859.00px;font-size:14px;line-height:15px;transform:scaleX(0.9387);">NODE:</div>
<div id="f_a0" class="lbl" style="left:111.80px;top:884.00px;font-size:24px;line-height:28px;transform:scaleX(0.9710);">A-0</div>
<div id="f_title" class="lbl" style="left:244.60px;top:859.00px;font-size:14px;line-height:15px;transform:scaleX(0.8751);">TITLE:</div>
<div id="f_num" class="lbl" style="left:848.80px;top:859.00px;font-size:14px;line-height:15px;transform:scaleX(0.9402);">NUMBER:</div>
<div id="f_ba0" class="lbl" style="left:853.80px;top:871.00px;font-size:24px;line-height:28px;transform:scaleX(0.9751);">BA0</div>
<div id="f_t1" class="lbl" style="left:350.80px;top:857.00px;font-size:24px;line-height:28px;transform:scaleX(1.0068);">Оптовая продажа продовольственной</div>
<div id="f_t2" class="lbl" style="left:503.80px;top:885.00px;font-size:24px;line-height:28px;transform:scaleX(1.0119);">продукции</div>
<!--/DIAGRAM-->

</body>
</html>
